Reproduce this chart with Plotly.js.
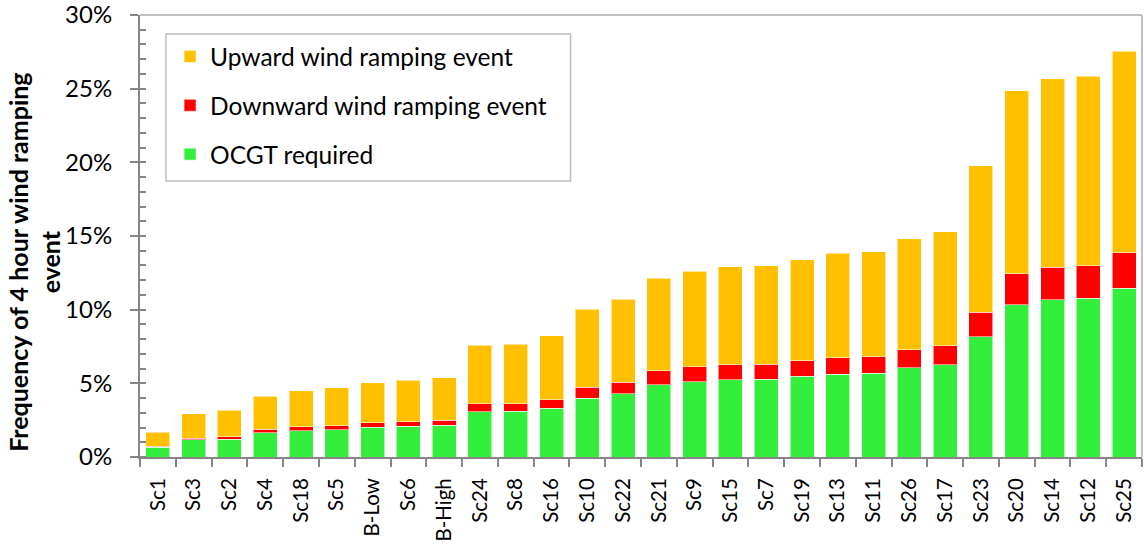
<!DOCTYPE html>
<html>
<head>
<meta charset="utf-8">
<script src="https://cdn.plot.ly/plotly-3.0.1.min.js"></script>
<style>html,body{margin:0;padding:0;background:#fff;}#chart{width:1144px;height:544px;}</style>
</head>
<body>
<div id="chart"></div>
<script>
const scenarios = ["Sc1","Sc3","Sc2","Sc4","Sc18","Sc5","B-Low","Sc6","B-High","Sc24","Sc8","Sc16","Sc10","Sc22","Sc21","Sc9","Sc15","Sc7","Sc19","Sc13","Sc11","Sc26","Sc17","Sc23","Sc20","Sc14","Sc12","Sc25"];
// segment heights (% of time), stacked bottom to top
const ocgtRequired = [0.66,1.16,1.22,1.65,1.79,1.86,2.02,2.08,2.15,3.06,3.10,3.30,4.00,4.30,4.91,5.12,5.25,5.27,5.47,5.61,5.68,6.07,6.27,8.15,10.35,10.69,10.78,11.47];
const downwardRamp = [0.06,0.11,0.16,0.23,0.25,0.27,0.29,0.30,0.34,0.54,0.50,0.57,0.75,0.79,0.93,0.99,1.00,1.04,1.05,1.11,1.11,1.20,1.27,1.69,2.10,2.19,2.19,2.38];
const upwardRamp = [0.96,1.68,1.79,2.24,2.46,2.56,2.72,2.83,2.90,4.00,4.07,4.35,5.28,5.61,6.29,6.49,6.65,6.68,6.88,7.11,7.13,7.56,7.76,9.92,12.40,12.81,12.88,13.69];
const yTickVals = [0,5,10,15,20,25,30];

const FONT = "Lato, 'Open Sans', sans-serif";
const edge = {color: 'rgba(255,255,255,0.55)', width: 1};

const traces = [
  {type:'bar', name:'OCGT required', x:scenarios, y:ocgtRequired, marker:{color:'#33EE3A', line:edge}, legendgroup:'c', legendrank:3, hoverinfo:'x+y'},
  {type:'bar', name:'Downward wind ramping event', x:scenarios, y:downwardRamp, marker:{color:'#FF0000', line:edge}, legendgroup:'b', legendrank:2, hoverinfo:'x+y'},
  {type:'bar', name:'Upward wind ramping event', x:scenarios, y:upwardRamp, marker:{color:'#FFC000', line:edge}, legendgroup:'a', legendrank:1, hoverinfo:'x+y'}
];

const layout = {
  width:1144, height:544,
  margin:{l:140, r:2, t:15, b:87},
  paper_bgcolor:'#fff', plot_bgcolor:'#fff',
  barmode:'stack', bargap:0.33,
  font:{family:FONT, size:24, color:'#000'},
  showlegend:true,
  legend:{
    x:0.03, y:0.957, xanchor:'left', yanchor:'top',
    traceorder:'grouped', tracegroupgap:14,
    bgcolor:'rgba(0,0,0,0)', borderwidth:0,
    font:{family:FONT, size:24.5, color:'#000'}
  },
  xaxis:{
    type:'category', tickson:'boundaries', ticks:'outside', ticklen:8, tickwidth:2, tickcolor:'#868686',
    showline:true, linecolor:'#868686', linewidth:2, showgrid:false, zeroline:false, automargin:false,
    tickangle:-90, ticklabelstandoff:11, ticklabeloverflow:'allow',
    tickfont:{family:FONT, size:20.5, color:'#000'}, fixedrange:true
  },
  yaxis:{
    range:[0,30], tickvals:yTickVals, ticktext:yTickVals.map(v=>v+'%'),
    ticks:'outside', ticklen:8, tickwidth:2, tickcolor:'#868686',
    minor:{dtick:1, ticks:'inside', ticklen:6, tickwidth:2, tickcolor:'#868686', showgrid:false},
    showline:true, linecolor:'#868686', linewidth:2, showgrid:false, zeroline:false, automargin:false,
    ticklabelstandoff:13, ticklabeloverflow:'allow',
    tickfont:{family:FONT, size:24, color:'#000'}, fixedrange:true
  },
  shapes:[
    {type:'line', xref:'paper', yref:'paper', x0:0, x1:1, y0:1, y1:1, line:{color:'#BFBFBF', width:2}},
    {type:'line', xref:'paper', yref:'paper', x0:1, x1:1, y0:0, y1:1, line:{color:'#BFBFBF', width:2}},
    {type:'rect', xref:'paper', yref:'paper', x0:0.0259, x1:0.4297, y0:0.6244, y1:0.957, line:{color:'#BFBFBF', width:1.5}, fillcolor:'rgba(0,0,0,0)', layer:'below'}
  ],
  annotations:[
    {xref:'paper', yref:'paper', x:-0.106, y:0.441, xanchor:'center', yanchor:'middle', textangle:-90, showarrow:false,
     text:'<b>Frequency of 4 hour wind ramping<br>event</b>', font:{family:FONT, size:25, color:'#000'}}
  ]
};

Plotly.newPlot('chart', traces, layout, {displayModeBar:false, staticPlot:true});
</script>
</body>
</html>
